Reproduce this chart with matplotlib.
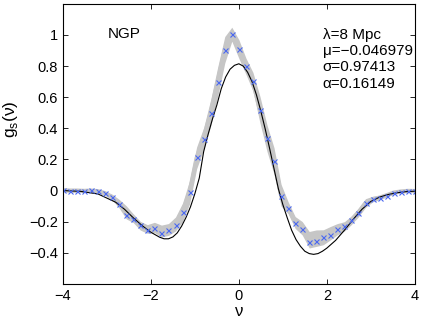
import numpy as np
import matplotlib
matplotlib.use("Agg")
import matplotlib.pyplot as plt

plt.rcParams['font.family'] = ['Liberation Sans', 'DejaVu Sans']

# sampled points (blue crosses), nu from -4 to 4 in steps of 0.16
nu = np.linspace(-4, 4, 51)
g_pts = [0.004, 0.000, 0.000, -0.003, 0.003, -0.005, -0.017, -0.041, -0.088, -0.157,
         -0.182, -0.222, -0.252, -0.242, -0.270, -0.253, -0.222, -0.135, -0.010, 0.218,
         0.331, 0.501, 0.698, 0.904, 1.005, 0.909, 0.798, 0.703, 0.518, 0.336,
         0.193, -0.032, -0.113, -0.206, -0.244, -0.332, -0.321, -0.301, -0.285, -0.248,
         -0.227, -0.189, -0.141, -0.077, -0.053, -0.049, -0.032, -0.013, -0.006, 0.000,
         -0.004]

# grey band: centre and half width
band_mid = [0.003, 0.000, 0.000, -0.002, 0.000, -0.004, -0.017, -0.042, -0.085, -0.140,
            -0.178, -0.226, -0.247, -0.237, -0.260, -0.250, -0.215, -0.140, -0.010, 0.210,
            0.335, 0.500, 0.700, 0.905, 1.005, 0.910, 0.800, 0.700, 0.520, 0.336,
            0.190, -0.030, -0.110, -0.205, -0.242, -0.316, -0.306, -0.300, -0.274, -0.248,
            -0.230, -0.190, -0.140, -0.080, -0.055, -0.045, -0.030, -0.013, -0.006, -0.002,
            -0.003]
band_hw = [0.010, 0.010, 0.010, 0.010, 0.010, 0.010, 0.013, 0.018, 0.028, 0.042,
           0.028, 0.028, 0.028, 0.033, 0.038, 0.038, 0.045, 0.060, 0.075, 0.070,
           0.070, 0.085, 0.095, 0.085, 0.045, 0.060, 0.052, 0.060, 0.085, 0.085,
           0.085, 0.070, 0.038, 0.038, 0.043, 0.053, 0.053, 0.048, 0.043, 0.036,
           0.030, 0.028, 0.028, 0.028, 0.018, 0.013, 0.011, 0.010, 0.010, 0.010,
           0.010]

# model curve (thin black line)
nu_fit = [-4.0, -3.6, -3.2, -2.8, -2.6, -2.4, -2.2, -2.0, -1.8, -1.7, -1.6, -1.5, -1.4,
          -1.3, -1.2, -1.1, -1.0, -0.9, -0.8, -0.7, -0.6, -0.5, -0.4, -0.3, -0.2, -0.1,
          0.0, 0.1, 0.2, 0.3, 0.4, 0.5, 0.6, 0.7, 0.8, 0.9, 1.0, 1.1, 1.2, 1.3, 1.4,
          1.5, 1.6, 1.7, 1.8, 1.9, 2.0, 2.2, 2.4, 2.6, 2.8, 3.0, 3.2, 3.4, 3.6, 3.8, 4.0]
g_fit = [0.0, -0.005, -0.022, -0.075, -0.12, -0.175, -0.225, -0.268, -0.300, -0.310,
         -0.310, -0.298, -0.272, -0.228, -0.172, -0.105, -0.02, 0.08, 0.25, 0.36,
         0.46, 0.55, 0.655, 0.73, 0.78, 0.805, 0.815, 0.80, 0.76, 0.70,
         0.615, 0.51, 0.395, 0.27, 0.14, 0.01, -0.09, -0.175, -0.255, -0.315,
         -0.358, -0.39, -0.405, -0.41, -0.405, -0.39, -0.37, -0.32, -0.255, -0.185,
         -0.12, -0.07, -0.042, -0.025, -0.014, -0.007, -0.004]

params = ["λ=8 Mpc", "μ=−0.046979", "σ=0.97413", "α=0.16149"]

fig = plt.figure(figsize=(4.25, 3.23), dpi=100)
ax = fig.add_axes([0.148, 0.121, 0.828, 0.867])

mid = np.array(band_mid)
hw = np.array(band_hw)
ax.fill_between(nu, mid - hw, mid + hw, color='#c6c6c6', lw=0)
ax.plot(nu, mid, color='#c6c6c6', lw=3)
ax.plot(nu_fit, g_fit, color='black', lw=0.8)
ax.plot(nu, g_pts, 'x', color='#4a68f0', ms=3.6, mew=0.8)

ax.set_xlim(-4, 4)
ax.set_ylim(-0.6, 1.2)
ax.set_xticks([-4, -2, 0, 2, 4])
ax.set_yticks([-0.4, -0.2, 0, 0.2, 0.4, 0.6, 0.8, 1])
ax.set_yticklabels(["−0.4", "−0.2", "0", "0.2", "0.4", "0.6", "0.8", "1"])
ax.set_xticklabels(["−4", "−2", "0", "2", "4"])
ax.tick_params(direction='in', top=True, right=True, labelsize=10.5, length=3.5, width=0.6)
for s in ax.spines.values():
    s.set_linewidth(0.8)

ax.set_xlabel("ν", fontsize=12, labelpad=1)
ax.set_ylabel("g$_\\mathregular{s}$(ν)", fontsize=12.5)
ax.yaxis.set_label_coords(-0.122, 0.59)

ax.text(-2.99, 1.007, "NGP", fontsize=11, va='center', ha='left')
ax.text(1.91, 1.045, "\n".join(params), fontsize=11, va='top', ha='left', linespacing=1.2)

fig.savefig("out.png", dpi=100)
